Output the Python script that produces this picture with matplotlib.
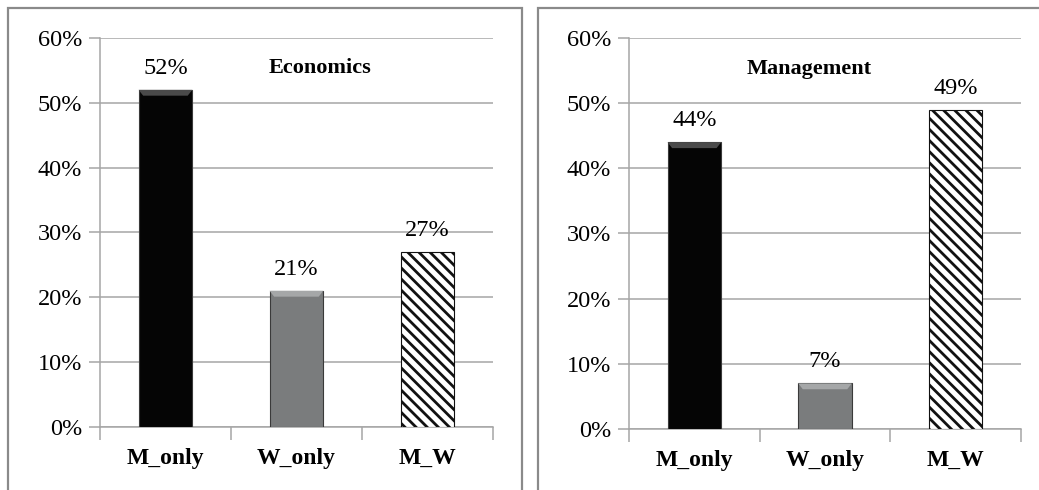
import numpy as np
import matplotlib
matplotlib.use('Agg')
import matplotlib.pyplot as plt
from matplotlib.patches import Rectangle, Polygon
import matplotlib.ticker as mtick

# shares of each group, per field
categories = ['M_only', 'W_only', 'M_W']
economics = [52, 21, 27]
management = [44, 7, 49]
panel_titles = ['Economics', 'Management']

plt.rcParams['font.family'] = ['Liberation Serif', 'DejaVu Serif']
plt.rcParams['hatch.linewidth'] = 2.0

grid_col = '#a6a6a6'
frame_col = '#8a8a8a'
bar_faces = ['#050505', '#7a7c7d', 'white']
bevel_faces = ['#4a4a4a', '#a5a7a8', None]


def draw_panel(ax, values, title, title_x):
    x = np.arange(len(categories))
    w = 0.41
    bars = ax.bar(x, values, width=w, color=bar_faces, edgecolor='#3a3a3a',
                  linewidth=0.8, zorder=3)
    bars[2].set_hatch('\\\\\\')
    bars[2].set_edgecolor('#111111')

    # light bevel along the top of the solid bars
    for xi, v, bc in zip(x, values, bevel_faces):
        if bc is None:
            continue
        d = 0.035
        h = 0.9
        poly = Polygon([(xi - w / 2, v), (xi + w / 2, v),
                        (xi + w / 2 - d, v - h), (xi - w / 2 + d, v - h)],
                       closed=True, facecolor=bc, edgecolor='none', zorder=4)
        ax.add_patch(poly)

    for xi, v in zip(x, values):
        ax.annotate(f'{v}%', (xi, v), xytext=(0, 8), textcoords='offset points',
                    ha='center', va='bottom', fontsize=17.5, zorder=5)

    ax.text(title_x, 55.3, title, transform=ax.get_yaxis_transform(),
            ha='center', va='center', fontsize=16, fontweight='bold')

    ax.set_xlim(-0.5, 2.5)
    ax.set_ylim(0, 60)
    ax.set_yticks(np.arange(0, 61, 10))
    ax.yaxis.set_major_formatter(mtick.PercentFormatter(decimals=0))
    ax.yaxis.grid(True, color=grid_col, linewidth=1.1, zorder=0)
    ax.set_axisbelow(True)

    # category labels centred, boundary ticks in between
    ax.set_xticks(x)
    ax.set_xticklabels(categories, fontsize=17, fontweight='bold')
    ax.tick_params(axis='x', length=0, pad=15)
    ax.set_xticks([-0.5, 0.5, 1.5, 2.5], minor=True)
    ax.tick_params(axis='x', which='minor', length=9, width=1.1, color=grid_col)
    ax.tick_params(axis='y', length=8, width=1.1, color=grid_col, labelsize=17.5, pad=5)

    for s in ['top', 'right']:
        ax.spines[s].set_visible(False)
    for s in ['left', 'bottom']:
        ax.spines[s].set_color(grid_col)
        ax.spines[s].set_linewidth(1.1)


fig = plt.figure(figsize=(10.39, 4.90), dpi=100)

ax1 = fig.add_axes([0.0962, 0.1286, 0.3782, 0.7939])
ax2 = fig.add_axes([0.6054, 0.1245, 0.3773, 0.7980])

draw_panel(ax1, economics, panel_titles[0], 0.56)
draw_panel(ax2, management, panel_titles[1], 0.46)

# outer frames around each chart
fig.patches.append(Rectangle((0.0077, -0.05), 0.4947, 1.0337, transform=fig.transFigure,
                             fill=False, edgecolor=frame_col, linewidth=1.6))
fig.patches.append(Rectangle((0.5178, -0.05), 0.55, 1.0337, transform=fig.transFigure,
                             fill=False, edgecolor=frame_col, linewidth=1.6))

fig.savefig('out.png', dpi=100, facecolor='white')
